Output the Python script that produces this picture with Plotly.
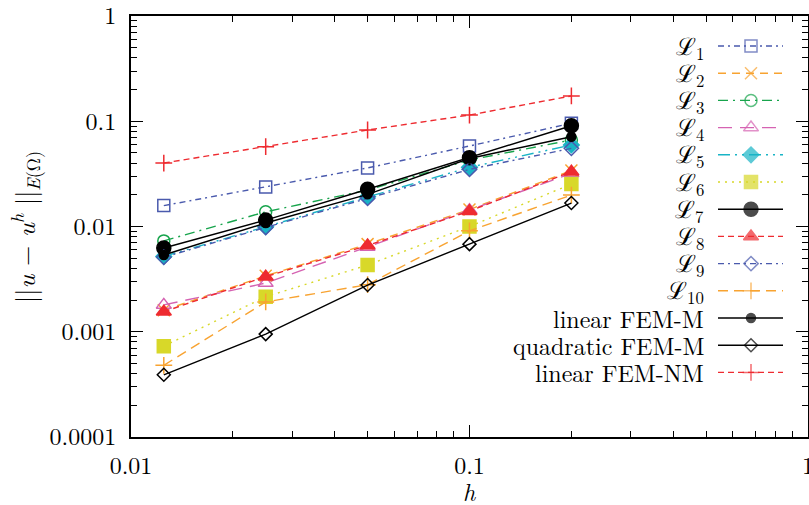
import plotly.graph_objects as go

h = [0.0125, 0.025, 0.05, 0.1, 0.2]

L1 = [0.0158, 0.0237, 0.0360, 0.0582, 0.0957]
L2 = [0.0016, 0.0034, 0.0068, 0.0145, 0.0340]
L3 = [0.0073, 0.0138, 0.0222, 0.0428, 0.0664]
L4 = [0.0018, 0.0029, 0.0064, 0.0143, 0.0320]
L5 = [0.0052, 0.00995, 0.0192, 0.0365, 0.0595]
L6 = [0.00073, 0.00215, 0.0043, 0.0100, 0.0253]
L7 = [0.00625, 0.0115, 0.0226, 0.0451, 0.0907]
L8 = [0.00155, 0.00334, 0.0066, 0.0140, 0.0332]
L9 = [0.0051, 0.0098, 0.0185, 0.0349, 0.0553]
L10 = [0.00048, 0.00192, 0.0028, 0.0091, 0.0199]
fem_m = [0.00536, 0.0108, 0.0202, 0.0443, 0.0713]
quad_fem_m = [0.00039, 0.00095, 0.00278, 0.0068, 0.0167]
fem_nm = [0.0401, 0.0573, 0.0826, 0.1146, 0.174]

names = ["ℒ<sub>1</sub>", "ℒ<sub>2</sub>", "ℒ<sub>3</sub>", "ℒ<sub>4</sub>", "ℒ<sub>5</sub>",
         "ℒ<sub>6</sub>", "ℒ<sub>7</sub>", "ℒ<sub>8</sub>", "ℒ<sub>9</sub>", "ℒ<sub>10</sub>",
         "linear FEM-M", "quadratic FEM-M", "linear FEM-NM"]
series = [L1, L2, L3, L4, L5, L6, L7, L8, L9, L10, fem_m, quad_fem_m, fem_nm]

BLUE = "#4a5aad"
ORANGE = "#f8a331"
GREEN = "#17a44c"
PINK = "#d563b2"
CYAN = "#19b4c6"
YEL = "#d8d829"
RED = "#ee2b30"

styles = [
    dict(color=BLUE, dash="6px,4px,2px,4px", symbol="square-open", size=12),
    dict(color=ORANGE, dash="8px,6px", symbol="x-thin-open", size=12),
    dict(color=GREEN, dash="10px,5px,2px,5px", symbol="circle-open", size=12),
    dict(color=PINK, dash="14px,8px", symbol="triangle-up-open", size=13),
    dict(color=CYAN, dash="12px,5px,2px,5px,2px,5px", symbol="diamond", size=12),
    dict(color=YEL, dash="2px,5px", symbol="square", size=13),
    dict(color="black", dash="solid", symbol="circle", size=14),
    dict(color=RED, dash="6px,4px", symbol="triangle-up", size=13),
    dict(color=BLUE, dash="6px,4px,2px,4px", symbol="diamond-open", size=11),
    dict(color=ORANGE, dash="10px,6px", symbol="cross-thin-open", size=12),
    dict(color="black", dash="solid", symbol="circle", size=9),
    dict(color="black", dash="solid", symbol="diamond-open", size=10),
    dict(color=RED, dash="6px,4px", symbol="cross-thin-open", size=12),
]

FONT = "Latin Modern Roman"

fig = go.Figure()
for vals, st in zip(series, styles):
    fig.add_trace(go.Scatter(
        x=h, y=vals, mode="lines+markers", showlegend=False,
        line=dict(color=st["color"], dash=st["dash"], width=1.4),
        marker=dict(symbol=st["symbol"], size=st["size"], color=st["color"],
                    line=dict(color=st["color"], width=1.5)),
    ))

# gnuplot-style key: text on the left, sample on the right
plot_l, plot_r, plot_t, plot_b = 131, 808, 16, 437
W = plot_r - plot_l
H = plot_b - plot_t
row0, gap = 46, 27.2
for i, (nm, st) in enumerate(zip(names, styles)):
    ypx = row0 + gap * i
    yf = (plot_b - ypx) / H
    xs = [(718 - plot_l) / W, (751 - plot_l) / W, (783 - plot_l) / W]
    fig.add_trace(go.Scatter(
        x=xs, y=[yf] * 3, xaxis="x2", yaxis="y2", mode="lines+markers", showlegend=False,
        line=dict(color=st["color"], dash=st["dash"], width=1.4),
        marker=dict(symbol=st["symbol"], size=[0, st["size"], 0], color=st["color"],
                    line=dict(color=st["color"], width=1.5)),
        hoverinfo="skip",
    ))
    fig.add_annotation(x=(706 - plot_l) / W, y=yf, xref="paper", yref="paper",
                       text=nm, showarrow=False, xanchor="right", yanchor="middle",
                       font=dict(family=FONT, size=24, color="black"))

yt_vals = [1e-4, 1e-3, 1e-2, 1e-1, 1]
yt_text = ["0.0001", "0.001", "0.01", "0.1", "1"]
xt_vals = [0.01, 0.1, 1]
xt_text = ["0.01", "0.1", "1"]
y_minor = [k * 10.0 ** e for e in range(-4, 0) for k in range(2, 10)]
x_minor = [k * 10.0 ** e for e in range(-2, 0) for k in range(2, 10)]

axis_common = dict(
    showline=True, linecolor="black", linewidth=2, mirror="ticks",
    ticks="inside", ticklen=12, tickwidth=1.2, tickcolor="black",
    showgrid=False, zeroline=False, ticklabeloverflow="allow", automargin=False,
    tickfont=dict(family=FONT, size=24, color="black"),
)

fig.update_layout(
    width=809, height=505,
    font=dict(family=FONT, size=24, color="black"),
    margin=dict(l=plot_l, r=809 - plot_r, t=plot_t, b=505 - plot_b, autoexpand=False),
    paper_bgcolor="white", plot_bgcolor="white",
    xaxis=dict(type="log", range=[-2, 0.0001], tickvals=xt_vals, ticktext=xt_text,
               minor=dict(tickvals=x_minor, ticks="inside", ticklen=6, tickwidth=1.2,
                          tickcolor="black", showgrid=False),
               ticklabelstandoff=6, **axis_common),
    yaxis=dict(type="log", range=[-4, 0.0001], tickvals=yt_vals, ticktext=yt_text,
               minor=dict(tickvals=y_minor, ticks="inside", ticklen=6, tickwidth=1.2,
                          tickcolor="black", showgrid=False),
               ticklabelstandoff=8, **axis_common),
    xaxis2=dict(range=[0, 1], overlaying="x", visible=False),
    yaxis2=dict(range=[0, 1], overlaying="y", visible=False),
)

fig.add_annotation(x=0.5, y=(plot_b - 491) / H, xref="paper", yref="paper",
                   text="<i>h</i>", showarrow=False, xanchor="center", yanchor="middle",
                   font=dict(family=FONT, size=24, color="black"))
fig.add_annotation(x=(24 - plot_l) / W, y=(plot_b - 227) / H, xref="paper", yref="paper",
                   text="||<i>u</i> − <i>u</i><sup><i>h</i></sup> ||<sub><i>E</i>(Ω)</sub>",
                   textangle=-90, showarrow=False, xanchor="center", yanchor="middle",
                   font=dict(family=FONT, size=26, color="black"))

fig.write_html("out.html")
